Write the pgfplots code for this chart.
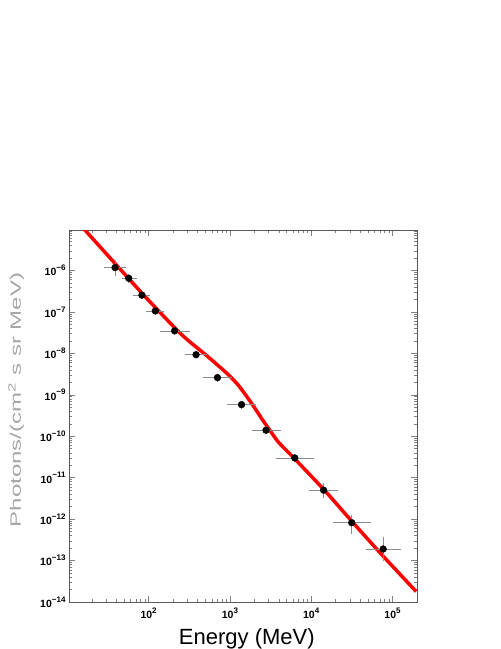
\documentclass[border=0pt]{standalone}
\usepackage{fontspec}
\setmainfont{Liberation Sans}
\usepackage{pgfplots}
\pgfplotsset{compat=1.18}
\usepackage{pgfplotstable}

\newcommand{\myexp}[1]{\pgfmathparse{int(round(#1))}\ifnum\pgfmathresult<0 \pgfmathparse{int(-\pgfmathresult)}−\pgfmathresult\else\pgfmathresult\fi}

\pgfplotstableread{
x y exm exp eym eyp
38.7 1.18e-6 8.7 10.3 0.35e-6 0.42e-6
57 6.5e-7 7 11 0.6e-7 0.6e-7
82.7 2.55e-7 12.7 15.3 0.2e-7 0.2e-7
121 1.06e-7 21 25 0.08e-7 0.08e-7
209 3.5e-8 62 91 0.25e-8 0.25e-8
384 9.3e-9 84 106 0.6e-9 0.6e-9
703 2.6e-9 203 277 0.2e-9 0.2e-9
1390 5.8e-10 390 550 0.5e-10 0.5e-10
2780 1.4e-10 800 1220 0.12e-10 0.12e-10
6280 3.0e-11 2280 3720 0.3e-11 0.3e-11
14200 5.0e-12 4200 5800 1.2e-12 1.6e-12
31500 8.2e-13 11500 18500 3.1e-13 2.5e-13
76700 1.9e-13 26700 41300 0.8e-13 1.3e-13
}\data

\pgfplotstableread{
x y
10 2.77e-5
16.2 9.84e-6
81.1 2.97e-7
209 4.17e-8
251 2.92e-8
316 1.95e-8
501 9.33e-9
794 4.27e-9
1000 2.82e-9
1259 1.74e-9
1585 9.55e-10
1995 5.01e-10
2512 2.51e-10
3162 1.32e-10
3981 7.08e-11
6310 2.82e-11
14890 4.74e-12
31700 8.79e-13
74500 1.36e-13
195400 1.79e-14
}\fit

\begin{document}
\begin{tikzpicture}
\path[use as bounding box] (0,0) rectangle (501pt,649pt);
\begin{loglogaxis}[
  at={(69pt,47pt)}, anchor=south west,
  width=348pt, height=372pt, scale only axis,
  xmin=10.5, xmax=2e5, ymin=1e-14, ymax=9.5e-6,
  axis line style={black!65, line width=0.6pt},
  tick style={black!50, line width=0.5pt},
  major tick length=6pt, minor tick length=3pt,
  tick pos=both, tick align=inside,
  log number format basis/.code 2 args={\bfseries #1\raisebox{0.5em}{\fontsize{8}{8}\selectfont\bfseries\myexp{#2}}},
  ticklabel style={font=\fontsize{10.5}{10.5}\selectfont},
  xticklabel style={yshift=-2pt},
  every axis y label/.style={at={(axis description cs:-0.152,0.543)}, rotate=90, anchor=center},
  every axis x label/.style={at={(axis description cs:0.511,-0.113)}, anchor=base},
  xlabel={\fontsize{22}{22}\selectfont Energy (MeV)},
  ylabel={\color{black!35}\fontsize{15}{15}\selectfont\scalebox{1.6}[1]{Photons/(cm\textsuperscript{2} s sr MeV)}},
  clip=true,
]
\addplot[red, line width=3.5pt, smooth, tension=0.4] table[x=x,y=y] {\fit};
\addplot[only marks, mark=*, mark size=3.4pt, black,
  error bars/.cd, x dir=both, x explicit, y dir=both, y explicit,
  error bar style={black!45, line width=0.7pt},
  error mark options={black!45, line width=0.7pt, mark size=2.5pt}]
  table[x=x, y=y, x error minus=exm, x error plus=exp, y error minus=eym, y error plus=eyp] {\data};
\end{loglogaxis}
\end{tikzpicture}
\end{document}
